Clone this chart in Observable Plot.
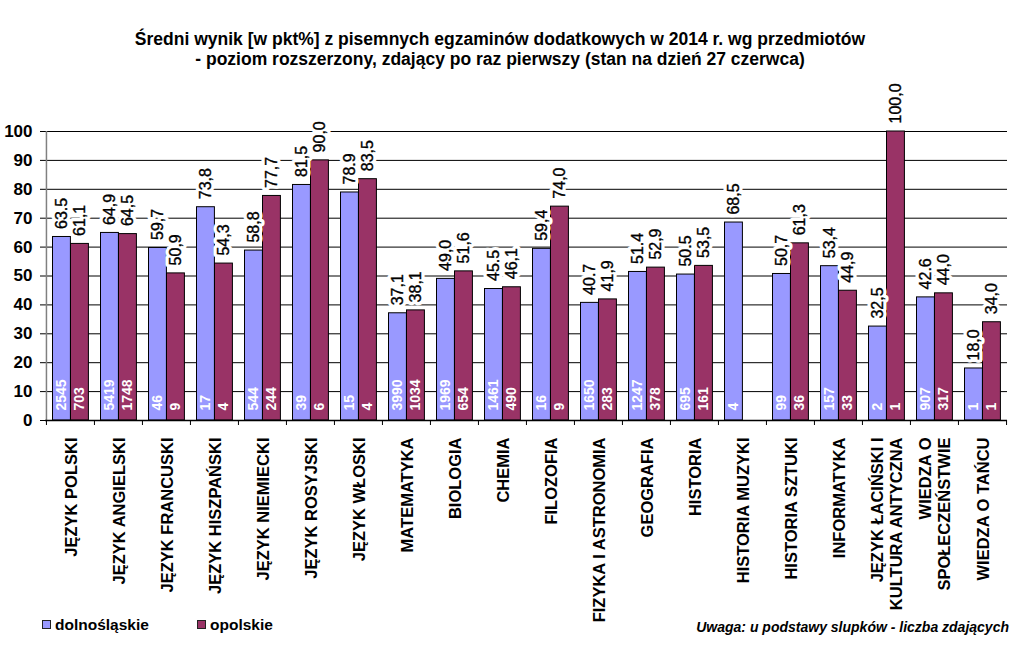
<!DOCTYPE html>
<html>
<head>
<meta charset="utf-8">
<script src="https://cdn.jsdelivr.net/npm/d3@7"></script>
<script src="https://cdn.jsdelivr.net/npm/@observablehq/plot@0.6"></script>
<style>
  body { margin: 0; background: white; font-family: "Liberation Sans", Arial, sans-serif; }
  #wrap { position: relative; width: 1036px; height: 656px; overflow: hidden; }
  #title { position: absolute; left: 0; top: 29px; width: 1000px; text-align: center; font-weight: bold; font-size: 17.5px; line-height: 20px; color: #000; }
  #chart { position: absolute; left: 0; top: 100px; }
  .leg { position: absolute; top: 616px; font-weight: bold; font-size: 15.5px; color: #000; }
  .sw { display: inline-block; width: 7px; height: 7px; border: 1px solid #222; margin-right: 4px; vertical-align: 1px; }
  #note { position: absolute; right: 27px; top: 619px; font-weight: bold; font-style: italic; font-size: 14px; color: #000; }
</style>
</head>
<body>
<div id="wrap">
  <div id="title">Średni wynik [w pkt%] z pisemnych egzaminów dodatkowych w 2014 r. wg przedmiotów<br>- poziom rozszerzony, zdający po raz pierwszy (stan na dzień 27 czerwca)</div>
  <div id="chart"></div>
  <div class="leg" style="left:42px"><span class="sw" style="background:#9999FF"></span>dolnośląskie</div>
  <div class="leg" style="left:197px"><span class="sw" style="background:#993366"></span>opolskie</div>
  <div id="note">Uwaga: u podstawy slupków - liczba zdających</div>
</div>
<script>
const categories = ["JĘZYK POLSKI","JĘZYK ANGIELSKI","JĘZYK FRANCUSKI","JĘZYK HISZPAŃSKI","JĘZYK NIEMIECKI","JĘZYK ROSYJSKI","JĘZYK WŁOSKI","MATEMATYKA","BIOLOGIA","CHEMIA","FILOZOFIA","FIZYKA I ASTRONOMIA","GEOGRAFIA","HISTORIA","HISTORIA MUZYKI","HISTORIA SZTUKI","INFORMATYKA","JĘZYK ŁACIŃSKI I\nKULTURA ANTYCZNA","WIEDZA O\nSPOŁECZEŃSTWIE","WIEDZA O TAŃCU"];
const dolnoslaskie = [63.5,64.9,59.7,73.8,58.8,81.5,78.9,37.1,49.0,45.5,59.4,40.7,51.4,50.5,68.5,50.7,53.4,32.5,42.6,18.0];
const opolskie = [61.1,64.5,50.9,54.3,77.7,90.0,83.5,38.1,51.6,46.1,74.0,41.9,52.9,53.5,null,61.3,44.9,100.0,44.0,34.0];
const dolnoslaskieLabels = ["63.5","64,9","59,7","73,8","58,8","81,5","78.9","37,1","49,0","45.5","59,4","40.7","51.4","50.5","68,5","50,7","53,4","32,5","42.6","18,0"];
const opolskieLabels = ["61,1","64,5","50,9","54,3","77,7","90,0","83,5","38,1","51,6","46,1","74,0","41,9","52,9","53,5",null,"61,3","44,9","100,0","44,0","34,0"];
const dolnoslaskieN = [2545,5419,46,17,544,39,15,3990,1969,1461,16,1650,1247,695,4,99,157,2,907,1];
const opolskieN = [703,1748,9,4,244,6,4,1034,654,490,9,283,378,161,null,36,33,1,317,1];
const yTicks = [0,10,20,30,40,50,60,70,80,90,100];

const W = 1036, H = 556, mL = 45, mR = 29, mT = 31, mB = 236;
const bw = (W - mL - mR) / categories.length;
const pad = 6.5, barW = 18;
const offBlue = pad + barW / 2 - bw / 2;
const offRed = pad + barW * 1.5 - bw / 2;

const blue = categories.map((c, i) => ({cat: c, v: dolnoslaskie[i], label: dolnoslaskieLabels[i], n: dolnoslaskieN[i]})).filter(d => d.v != null);
const red = categories.map((c, i) => ({cat: c, v: opolskie[i], label: opolskieLabels[i], n: opolskieN[i]})).filter(d => d.v != null);

const textOpts = {x: "cat", y: "v", text: "label", rotate: -90, textAnchor: "start", lineAnchor: "middle", dy: -8, fontSize: 16};
const valueHalo = (data, dx) => Plot.text(data, {...textOpts, dx, fill: "white", stroke: "white", strokeWidth: 7});
const valueText = (data, dx) => Plot.text(data, {...textOpts, dx, fill: "black", stroke: "black", strokeWidth: 0.35});
const countText = (data, dx) => Plot.text(data, {x: "cat", y: () => 0, text: d => String(d.n), rotate: -90, textAnchor: "start", lineAnchor: "middle", dx, dy: -10, fontSize: 14, fontWeight: "bold", fill: "white"});

const chart = Plot.plot({
  width: W, height: H, marginLeft: mL, marginRight: mR, marginTop: mT, marginBottom: mB,
  style: {fontFamily: "'Liberation Sans', Arial, sans-serif", background: "white", color: "black", overflow: "visible"},
  x: {domain: categories, padding: 0, axis: null},
  y: {domain: [0, 100], axis: null},
  marks: [
    Plot.gridY(yTicks, {stroke: "black", strokeOpacity: 1}),
    Plot.barY(blue, {x: "cat", y: "v", fill: "#9999FF", stroke: "black", strokeWidth: 1, insetLeft: pad, insetRight: bw - pad - barW}),
    Plot.barY(red, {x: "cat", y: "v", fill: "#993366", stroke: "black", strokeWidth: 1, insetLeft: pad + barW, insetRight: bw - pad - 2 * barW}),
    valueHalo(blue, offBlue),
    valueHalo(red, offRed),
    valueText(blue, offBlue),
    valueText(red, offRed),
    countText(blue, offBlue),
    countText(red, offRed),
    Plot.ruleX([categories[0]], {dx: -bw / 2, stroke: "#808080", strokeWidth: 1.5}),
    Plot.ruleY([0], {stroke: "black", strokeWidth: 1.5}),
    Plot.axisY(yTicks, {tickSize: 5, tickPadding: 8, fontSize: 17, fontWeight: "bold", stroke: "black", label: null}),
    Plot.axisX(categories, {tickSize: 5, tickFormat: () => "", dx: -bw / 2, stroke: "black", label: null}),
    Plot.axisX([categories[categories.length - 1]], {tickSize: 5, tickFormat: () => "", dx: bw / 2, stroke: "black", label: null}),
    Plot.text(categories, {x: d => d, text: d => d, frameAnchor: "bottom", rotate: -90, textAnchor: "end", lineAnchor: "middle", dy: 17, fontSize: 16.5, fontWeight: "bold", fill: "black", lineHeight: 1.15})
  ]
});
document.getElementById("chart").appendChild(chart);
</script>
</body>
</html>
